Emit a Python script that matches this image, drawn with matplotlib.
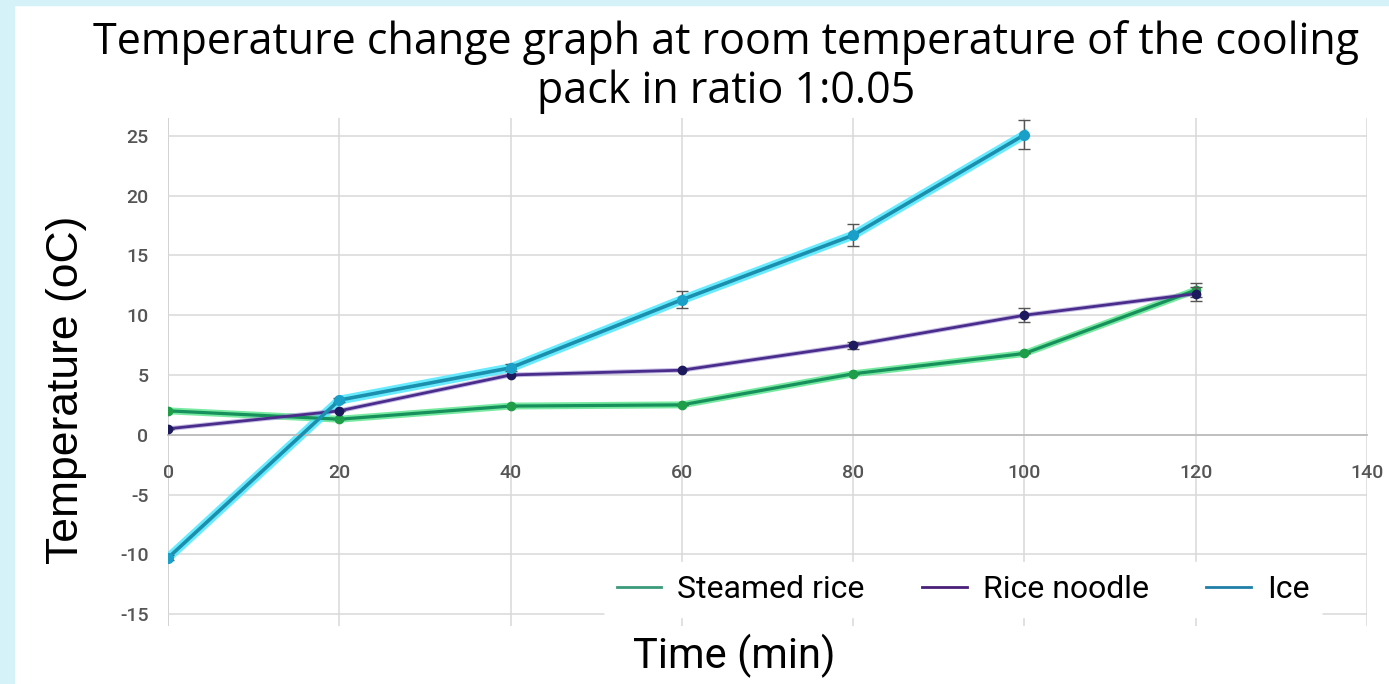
import matplotlib
matplotlib.use('Agg')
import matplotlib.pyplot as plt
import numpy as np

plt.rcParams['axes.unicode_minus'] = False

# data
time_min = [0, 20, 40, 60, 80, 100, 120]
steamed_rice = [2.0, 1.3, 2.4, 2.5, 5.1, 6.8, 12.1]
rice_noodle = [0.5, 2.0, 5.0, 5.4, 7.5, 10.0, 11.8]
ice_time = [0, 20, 40, 60, 80, 100]
ice = [-10.3, 2.9, 5.6, 11.3, 16.7, 25.1]

rice_err = [0, 0, 0, 0, 0, 0, 0.6]
noodle_err = [0, 0, 0, 0, 0.3, 0.6, 0.6]
ice_err = [0.2, 0.2, 0.3, 0.7, 0.9, 1.2]

x_ticks = [0, 20, 40, 60, 80, 100, 120, 140]
y_ticks = [-15, -10, -5, 0, 5, 10, 15, 20, 25]

fig = plt.figure(figsize=(13.89, 6.84), dpi=100)
fig.patch.set_facecolor('white')
# light blue frame on top and left
fig.add_artist(plt.Rectangle((0, 0), 14 / 1389, 1, transform=fig.transFigure, color='#d4f2f8', zorder=0))
fig.add_artist(plt.Rectangle((0, 1 - 5 / 684), 1, 5 / 684, transform=fig.transFigure, color='#d4f2f8', zorder=0))

ax = fig.add_axes([0.121, 0.0848, 0.8632, 0.7427])
ax.set_xlim(0, 140)
ax.set_ylim(-16, 26.5)

for s in ['top', 'right', 'left']:
    ax.spines[s].set_visible(False)
ax.spines['bottom'].set_position(('data', 0))
ax.spines['bottom'].set_color('#bdbdbd')
ax.spines['bottom'].set_linewidth(1.3)

ax.set_xticks(x_ticks)
ax.set_yticks(y_ticks)
ax.tick_params(axis='x', length=0, pad=21, labelsize=14, labelcolor='#555555')
ax.tick_params(axis='y', length=0, pad=14, labelsize=14, labelcolor='#555555')
for lab in ax.get_xticklabels() + ax.get_yticklabels():
    lab.set_family('Roboto')
    lab.set_weight('medium')
ax.grid(True, color='#d9d9d9', linewidth=1.1)
ax.axvline(0, color='#bdbdbd', linewidth=1.3, zorder=1)

# glow layers
ax.plot(time_min, steamed_rice, color='#3fe07a', linewidth=5, alpha=0.7, zorder=2)
ax.plot(ice_time, ice, color='#4fe8ff', linewidth=6.5, alpha=0.85, zorder=2)
ax.plot(time_min, rice_noodle, color='#8d7cc8', linewidth=3.5, alpha=0.5, zorder=2)

ax.errorbar(time_min, steamed_rice, yerr=rice_err, color='#17915c', linewidth=2.3,
            marker='o', markersize=6, markerfacecolor='#1f9e4a', markeredgecolor='#1f9e4a',
            ecolor='#555555', elinewidth=1, capsize=4, zorder=3)
ax.errorbar(time_min, rice_noodle, yerr=noodle_err, color='#4a2c8c', linewidth=2,
            marker='o', markersize=6, markerfacecolor='#1c1a5c', markeredgecolor='#1c1a5c',
            ecolor='#555555', elinewidth=1, capsize=4, zorder=4)
ax.errorbar(ice_time, ice, yerr=ice_err, color='#1b8fae', linewidth=2.6,
            marker='o', markersize=7, markerfacecolor='#1aa0c8', markeredgecolor='#1aa0c8',
            ecolor='#555555', elinewidth=1, capsize=4, zorder=5)

# legend handles
h1, = ax.plot([], [], color='#3a9a7a', linewidth=2)
h2, = ax.plot([], [], color='#4a1f7a', linewidth=2)
h3, = ax.plot([], [], color='#1f7fa8', linewidth=2)
leg = ax.legend([h1, h2, h3], ['Steamed rice', 'Rice noodle', 'Ice'], ncol=3,
                loc='center', bbox_to_anchor=(0.663, 0.072), frameon=True,
                handlelength=1.4, handletextpad=0.5, columnspacing=1.8,
                prop={'family': 'Roboto', 'size': 23})
leg.get_frame().set_edgecolor('white')
leg.get_frame().set_alpha(1)
leg.set_zorder(6)

ax.set_xlabel('Time (min)', fontsize=30, family='Roboto')
ax.xaxis.set_label_coords(0.472, -0.015)
ax.set_ylabel('Temperature (oC)', fontsize=32, family='Liberation Sans')
ax.yaxis.set_label_coords(-0.068, 0.465)

fig.text(0.523, 1 - 20 / 684, 'Temperature change graph at room temperature of the cooling\npack in ratio 1:0.05',
         ha='center', va='top', fontsize=31, family='Open Sans', linespacing=1.12)

fig.savefig('out.png', dpi=100)
